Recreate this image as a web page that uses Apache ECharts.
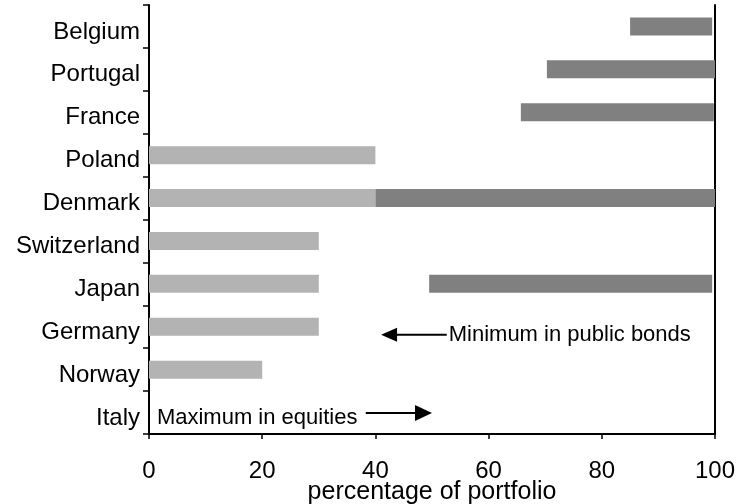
<!DOCTYPE html>
<html>
<head>
<meta charset="utf-8">
<script src="https://cdn.jsdelivr.net/npm/echarts@6/dist/echarts.min.js"></script>
<style>
html,body{margin:0;padding:0;background:#fff;}
#chart{width:741px;height:504px;}
</style>
</head>
<body>
<div id="chart"></div>
<script>
// Categories, top to bottom
const categories = ['Belgium','Portugal','France','Poland','Denmark','Switzerland','Japan','Germany','Norway','Italy'];
// Maximum in equities (bar from 0)
const equityMax = [null, null, null, 40, 40, 30, 30, 30, 20, 0];
// Minimum in public bonds: bar from start to end
const bondStart = [85, 70.3, 65.7, null, 40, null, 49.5, null, null, null];
const bondEnd   = [99.5, 100, 99.8, null, 100, null, 99.5, null, null, null];
const xTicks = [0, 20, 40, 60, 80, 100];
const xName = 'percentage of portfolio';
const noteBonds = 'Minimum in public bonds';
const noteEquities = 'Maximum in equities';

const FONT = "'Liberation Sans', Arial, sans-serif";
const bondLen = bondStart.map((s, i) => (s == null ? null : +(bondEnd[i] - s).toFixed(2)));

const chart = echarts.init(document.getElementById('chart'), null, {renderer: 'canvas'});
chart.setOption({
  animation: false,
  backgroundColor: '#fff',
  textStyle: {fontFamily: FONT},
  grid: {left: 149, right: 26, top: 5, bottom: 70, containLabel: false, outerBoundsMode: 'none'},
  xAxis: {
    type: 'value', min: xTicks[0], max: xTicks[xTicks.length - 1], interval: 20,
    axisLine: {show: true, lineStyle: {color: '#000', width: 2}},
    axisTick: {show: true, length: 5, lineStyle: {color: '#000', width: 1.5}},
    splitLine: {show: false},
    axisLabel: {fontSize: 24, color: '#000', margin: 25, fontFamily: FONT},
    name: xName, nameLocation: 'middle', nameGap: 46, nameMoveOverlap: false,
    nameTextStyle: {fontSize: 25, color: '#000', fontFamily: FONT}
  },
  yAxis: [{
    type: 'category', data: categories, inverse: true,
    axisLine: {show: true, lineStyle: {color: '#000', width: 2}},
    axisTick: {show: true, length: 6, lineStyle: {color: '#000', width: 1.5}},
    axisLabel: {fontSize: 24, color: '#000', margin: 9, interval: 0, verticalAlign: 'top', lineHeight: 11, fontFamily: FONT},
    splitLine: {show: false}
  }, {
    type: 'category', data: categories, inverse: true, position: 'right',
    axisLine: {show: true, lineStyle: {color: '#000', width: 2}},
    axisTick: {show: false}, axisLabel: {show: false}, splitLine: {show: false}
  }],
  series: [{
    name: 'equities', type: 'bar', data: equityMax, barWidth: 18, barGap: '-100%',
    itemStyle: {color: '#b3b3b3'}, silent: true
  }, {
    name: 'base', type: 'bar', stack: 'bonds', data: bondStart, barWidth: 18, barGap: '-100%',
    itemStyle: {color: 'rgba(0,0,0,0)'}, silent: true
  }, {
    name: 'bonds', type: 'bar', stack: 'bonds', data: bondLen, barWidth: 18, barGap: '-100%',
    itemStyle: {color: '#808080'}, silent: true
  }]
});

function px(v, c) { return chart.convertToPixel({xAxisIndex: 0, yAxisIndex: 0}, [v, c]); }

const gB = px(41, 'Germany');
const gBtail = px(52.6, 'Germany');
const yB = gB[1] + 8;
const eTip = px(50, 'Italy');
const eTail = px(38.3, 'Italy');
const eText = px(1.4, 'Italy');
const yE = eTip[1] + 0.5;

chart.setOption({
  graphic: [
    {type: 'line', shape: {x1: gB[0] + 14, y1: yB, x2: gBtail[0], y2: yB}, style: {stroke: '#000', lineWidth: 2}},
    {type: 'polygon', shape: {points: [[gB[0], yB], [gB[0] + 16, yB - 7], [gB[0] + 16, yB + 7]]}, style: {fill: '#000'}},
    {type: 'text', x: gBtail[0] + 2, y: yB, style: {text: noteBonds, font: '22px ' + FONT, fill: '#000', verticalAlign: 'middle'}},
    {type: 'text', x: eText[0], y: yE + 5, style: {text: noteEquities, font: '22px ' + FONT, fill: '#000', verticalAlign: 'middle'}},
    {type: 'line', shape: {x1: eTail[0], y1: yE, x2: eTip[0] - 14, y2: yE}, style: {stroke: '#000', lineWidth: 2}},
    {type: 'polygon', shape: {points: [[eTip[0], yE], [eTip[0] - 17, yE - 8], [eTip[0] - 17, yE + 8]]}, style: {fill: '#000'}}
  ]
});
</script>
</body>
</html>
